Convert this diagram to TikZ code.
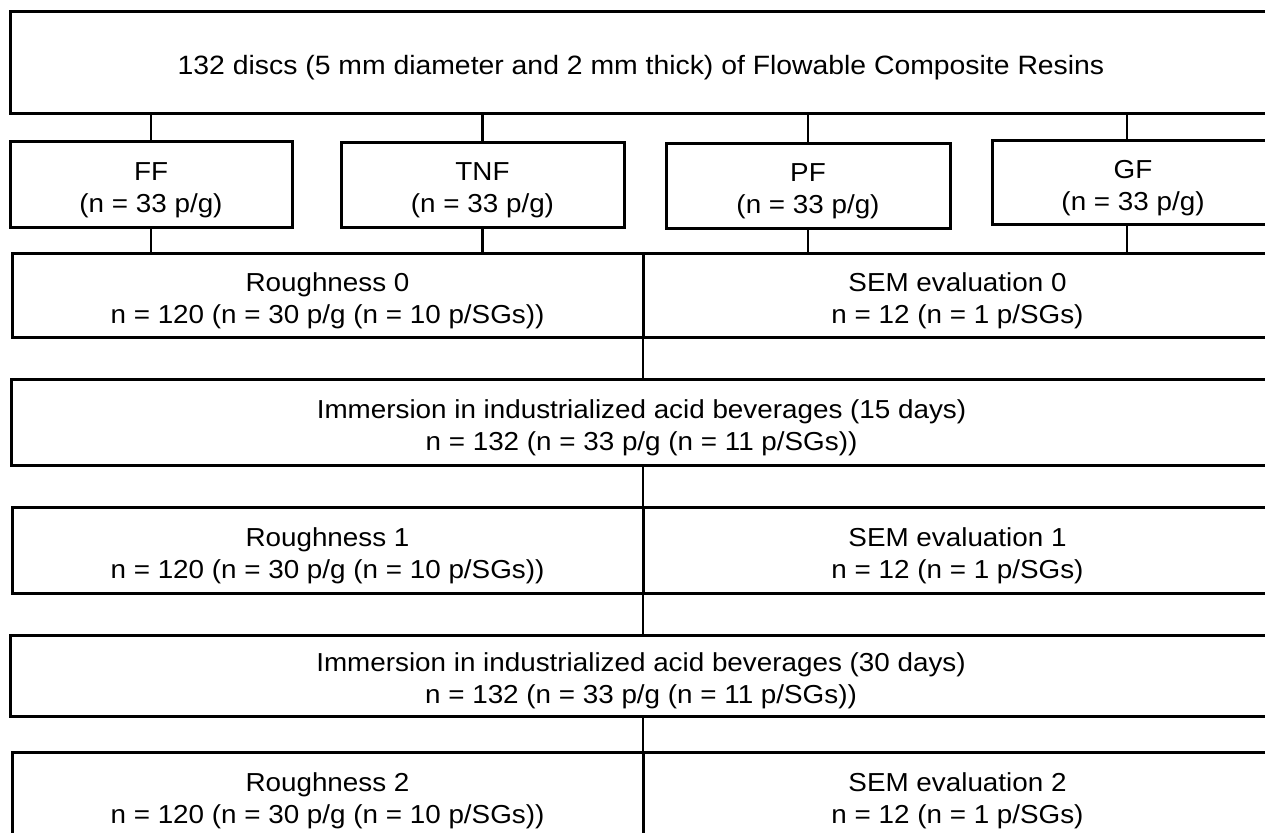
\documentclass[tikz,border=0pt]{standalone}
\usepackage{fontspec}
\setmainfont{Liberation Sans}[FakeStretch=1.07]
\usetikzlibrary{calc}

\begin{document}
\begin{tikzpicture}[x=1pt, y=-1pt,
  box/.style={draw, line width=3pt, outer sep=0pt, inner sep=0pt,
    align=center, anchor=north west, text height=62pt,
    font=\fontsize{26}{32}\selectfont},
  link/.style={line width=2.8pt}]

% Page frame (the right and bottom boxes run off the page)
\useasboundingbox (0,0) rectangle (1265,832);
\clip (0,0) rectangle (1265,832);

% Samples
\node[box, minimum width=1262, minimum height=102, text height=29pt,
  font=\fontsize{26.5}{32}\selectfont] (discs) at (10,12)
  {132 discs (5 mm diameter and 2 mm thick) of Flowable Composite Resins};

% Four resin groups
\node[box, minimum width=282, minimum height=86] (ff)  at (10,141)  {FF\\(n = 33 p/g)};
\node[box, minimum width=283, minimum height=85] (tnf) at (341,142) {TNF\\(n = 33 p/g)};
\node[box, minimum width=284, minimum height=85] (pf)  at (666,143) {PF\\(n = 33 p/g)};
\node[box, minimum width=282, minimum height=84] (gf)  at (992,140) {GF\\(n = 33 p/g)};

% Baseline measurements
\node[box, minimum width=631, minimum height=84] (rough0) at (12,253)
  {Roughness 0\\n = 120 (n = 30 p/g (n = 10 p/SGs))};
\node[box, minimum width=629, minimum height=84] (sem0) at (643,253)
  {SEM evaluation 0\\n = 12 (n = 1 p/SGs)};

% First immersion
\node[box, minimum width=1261, minimum height=86] (imm15) at (11,379)
  {Immersion in industrialized acid beverages (15 days)\\n = 132 (n = 33 p/g (n = 11 p/SGs))};

\node[box, minimum width=631, minimum height=86] (rough1) at (12,507)
  {Roughness 1\\n = 120 (n = 30 p/g (n = 10 p/SGs))};
\node[box, minimum width=629, minimum height=86] (sem1) at (643,507)
  {SEM evaluation 1\\n = 12 (n = 1 p/SGs)};

% Second immersion
\node[box, minimum width=1262, minimum height=81] (imm30) at (10,635)
  {Immersion in industrialized acid beverages (30 days)\\n = 132 (n = 33 p/g (n = 11 p/SGs))};

\node[box, minimum width=631, minimum height=86] (rough2) at (12,752)
  {Roughness 2\\n = 120 (n = 30 p/g (n = 10 p/SGs))};
\node[box, minimum width=629, minimum height=86] (sem2) at (643,752)
  {SEM evaluation 2\\n = 12 (n = 1 p/SGs)};

% Draw links from the discs to the groups
\draw[link] (ff.north) -- (ff.north |- discs.south);
\draw[link] (tnf.north) -- (tnf.north |- discs.south);
\draw[link] (pf.north) -- (pf.north |- discs.south);
\draw[link] ([xshift=-6pt]gf.north) -- ([xshift=-6pt]gf.north |- discs.south);

% Draw links from the groups to the first measurements
\draw[link] (ff.south) -- (ff.south |- rough0.north);
\draw[link] (tnf.south) -- (tnf.south |- rough0.north);
\draw[link] (pf.south) -- (pf.south |- sem0.north);
\draw[link] ([xshift=-6pt]gf.south) -- ([xshift=-6pt]gf.south |- sem0.north);

% Draw the central links down the chain
\draw[link] (rough0.south east) -- (imm15.north -| rough0.south east);
\draw[link] (imm15.south -| rough1.north east) -- (rough1.north east);
\draw[link] (rough1.south east) -- (imm30.north -| rough1.south east);
\draw[link] (imm30.south -| rough2.north east) -- (rough2.north east);

\end{tikzpicture}
\end{document}
